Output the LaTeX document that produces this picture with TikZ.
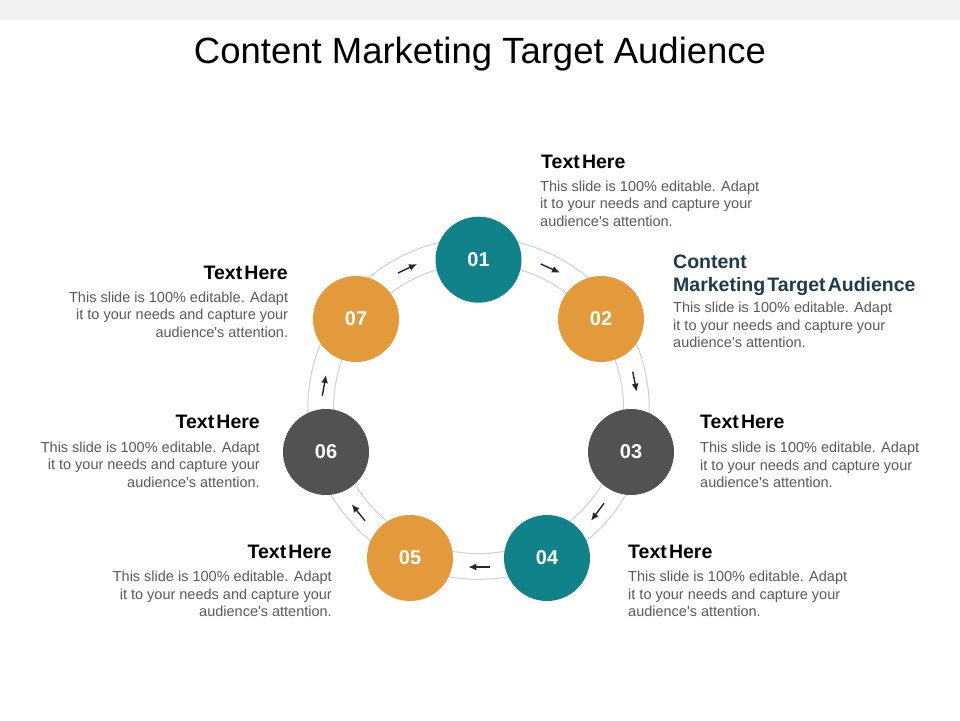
\documentclass[tikz,border=0pt]{standalone}
\usepackage{fontspec}
\setmainfont{Liberation Sans}
\newfontfamily\headfont{Liberation Sans}[WordSpace=0.4]
\usetikzlibrary{arrows.meta}
\definecolor{bandgray}{HTML}{F2F2F2}
\definecolor{ringgray}{HTML}{D0D0D0}
\definecolor{tealstep}{HTML}{0F8389}
\definecolor{orangestep}{HTML}{E29A3B}
\definecolor{darkstep}{HTML}{525252}
\definecolor{navyhead}{HTML}{1E3A4C}
\definecolor{bodygray}{HTML}{595959}
\definecolor{arrowblack}{HTML}{262626}
\newcommand{\blurb}{This slide is 100\% editable. Adapt\\it to your needs and capture your\\audience\textquotesingle s attention.}
\begin{document}
\begin{tikzpicture}[x=1pt,y=-1pt,
  stepdot/.style={circle,fill=#1,minimum size=86pt,inner sep=0pt,text=white,font=\fontsize{20}{24}\selectfont\bfseries},
  ringline/.style={draw=ringgray,line width=1pt},
  flowarrow/.style={draw=arrowblack,line width=1.4pt,-{Latex[length=8pt,width=7pt]}},
  headtext/.style={inner sep=0pt,text=black,font=\headfont\fontsize{19.5}{23}\selectfont\bfseries},
  bodytext/.style={inner sep=0pt,text=bodygray,font=\fontsize{14.5}{17.5}\selectfont}]
\useasboundingbox (0,0) rectangle (960,720);
\fill[bandgray] (0,0) rectangle (960,19.5);
\node[anchor=base,inner sep=0pt,font=\fontsize{36.5}{40}\selectfont] (title) at (480,63) {Content Marketing Target Audience};
% ring behind the steps
\coordinate (ringc) at (478.5,408.6);
\draw[ringline] (ringc) circle (170.7pt);
\draw[ringline] (ringc) circle (145pt);
% arrows between the steps
\coordinate (a71) at (398,273);   \coordinate (a71e) at (417,264);
\coordinate (a12) at (540.7,264); \coordinate (a12e) at (560,272.7);
\coordinate (a23) at (632.7,371.7); \coordinate (a23e) at (636.7,391.7);
\coordinate (a34) at (604,503.3); \coordinate (a34e) at (591,520.7);
\coordinate (a45) at (490,567);   \coordinate (a45e) at (468.3,567);
\coordinate (a56) at (365,520.7); \coordinate (a56e) at (351.7,504.3);
\coordinate (a67) at (322.3,395.7); \coordinate (a67e) at (326,375);
\draw[flowarrow] (a71) -- (a71e);
\draw[flowarrow] (a12) -- (a12e);
\draw[flowarrow] (a23) -- (a23e);
\draw[flowarrow] (a34) -- (a34e);
\draw[flowarrow] (a45) -- (a45e);
\draw[flowarrow] (a56) -- (a56e);
\draw[flowarrow] (a67) -- (a67e);
% steps
\node[stepdot=tealstep] (s1) at (478.5,259.7) {01};
\node[stepdot=orangestep] (s2) at (601,319) {02};
\node[stepdot=darkstep] (s3) at (631,452) {03};
\node[stepdot=tealstep] (s4) at (547,558) {04};
\node[stepdot=orangestep] (s5) at (410,558) {05};
\node[stepdot=darkstep] (s6) at (326,452) {06};
\node[stepdot=orangestep] (s7) at (356,319) {07};
% texts
\node[headtext,anchor=west] (h1) at (541,161.7) {Text Here};
\node[bodytext,anchor=north west,align=left] (b1) at (540,180.5) {\blurb};
\node[headtext,text=navyhead,anchor=north west,align=left] (h2) at (673,254.2) {Content\\Marketing Target Audience};
\node[bodytext,anchor=north west,align=left] (b2) at (673,301.8) {\blurb};
\node[headtext,anchor=west] (h3) at (700,421.5) {Text Here};
\node[bodytext,anchor=north west,align=left] (b3) at (700,441.8) {\blurb};
\node[headtext,anchor=west] (h4) at (628,551.5) {Text Here};
\node[bodytext,anchor=north west,align=left] (b4) at (628,571) {\blurb};
\node[headtext,anchor=east] (h5) at (332,551.5) {Text Here};
\node[bodytext,anchor=north east,align=right] (b5) at (332,571) {\blurb};
\node[headtext,anchor=east] (h6) at (260,421.7) {Text Here};
\node[bodytext,anchor=north east,align=right] (b6) at (260,441.7) {\blurb};
\node[headtext,anchor=east] (h7) at (288,272.7) {Text Here};
\node[bodytext,anchor=north east,align=right] (b7) at (288.3,291.7) {\blurb};
\end{tikzpicture}
\end{document}
